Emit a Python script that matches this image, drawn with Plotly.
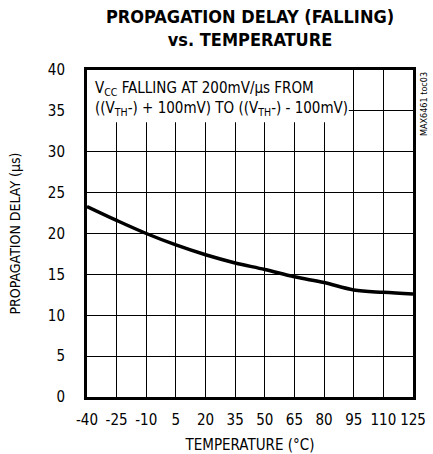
import plotly.graph_objects as go

temps = [-40, -25, -10, 5, 20, 35, 50, 65, 80, 95, 110, 125]
delay = [23.3, 21.6, 20.0, 18.6, 17.4, 16.4, 15.6, 14.7, 14.0, 13.1, 12.8, 12.6]
xticks = [-40, -25, -10, 5, 20, 35, 50, 65, 80, 95, 110, 125]
yticks = [0, 5, 10, 15, 20, 25, 30, 35, 40]

FONT = "DejaVu Sans Condensed, Liberation Sans Narrow, Roboto, sans-serif"

fig = go.Figure()
fig.add_trace(go.Scatter(x=temps, y=delay, mode="lines", line=dict(color="black", width=3.5, shape="spline"),
                         showlegend=False, hoverinfo="skip"))

fig.update_layout(
    width=433, height=454,
    margin=dict(l=87, r=20, t=70, b=57),
    paper_bgcolor="white", plot_bgcolor="white",
    font=dict(family=FONT, color="black", size=15),
    xaxis=dict(range=[-40, 125], tickvals=xticks, ticktext=[str(v) for v in xticks],
               showgrid=True, gridcolor="black", gridwidth=1,
               showline=True, linecolor="black", linewidth=3, mirror=True,
               ticks="", zeroline=False, ticklabelstandoff=7, automargin=False,
               title=dict(text="TEMPERATURE (°C)", font=dict(size=15), standoff=19),
               tickfont=dict(size=15)),
    yaxis=dict(range=[0, 40], tickvals=yticks, ticktext=[str(v) for v in yticks],
               showgrid=True, gridcolor="black", gridwidth=1,
               showline=True, linecolor="black", linewidth=3, mirror=True,
               ticks="", zeroline=False, ticklabelstandoff=16, automargin=False,
               title=dict(text="PROPAGATION DELAY (µs)", font=dict(size=14), standoff=24),
               tickfont=dict(size=15)),
)

fig.add_shape(type="rect", xref="x", yref="y", x0=-40, x1=92.5, y0=33.6, y1=40,
              fillcolor="white", line=dict(width=0), layer="between")

fig.add_annotation(xref="paper", yref="paper", x=0.5, y=1, yshift=18, xanchor="center", yanchor="bottom",
                   text="<b>PROPAGATION DELAY (FALLING)<br>vs. TEMPERATURE</b>",
                   showarrow=False, align="center", font=dict(size=18))

fig.add_annotation(xref="paper", yref="paper", x=6/326, y=1-7/327, xanchor="left", yanchor="top",
                   text="V<sub>CC</sub> FALLING AT 200mV/µs FROM<br>((V<sub>TH</sub>-) + 100mV) TO ((V<sub>TH</sub>-) - 100mV)",
                   showarrow=False, align="left", font=dict(size=15))

fig.add_annotation(xref="paper", yref="paper", x=1.0, xshift=11, y=1.0, xanchor="center", yanchor="top",
                   text="MAX6461 toc03", textangle=-90, showarrow=False, font=dict(size=9))

fig.write_html("out.html", config={"displayModeBar": False},
               post_script="document.body.style.margin='0';document.body.style.overflow='hidden';")
